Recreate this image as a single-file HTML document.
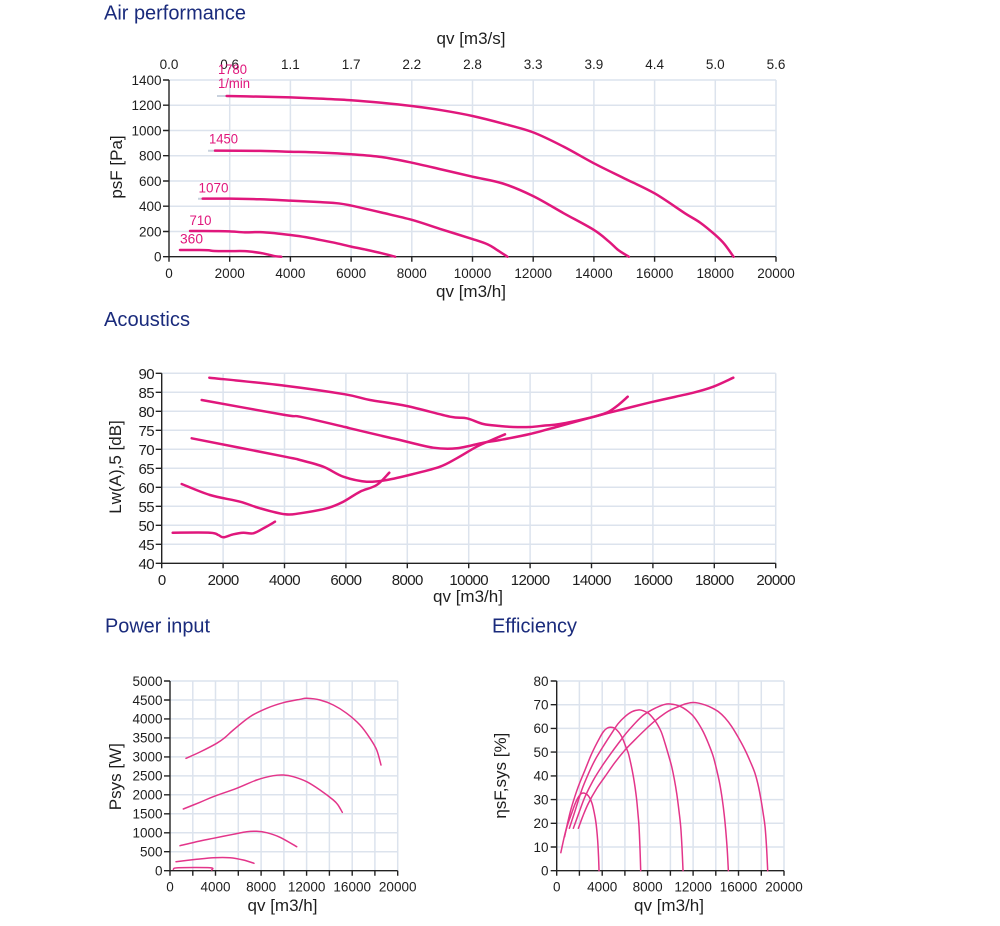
<!DOCTYPE html>
<html><head><meta charset="utf-8"><style>
html,body{margin:0;padding:0;background:#fff;}
svg{display:block;}
text{font-family:"Liberation Sans",Arial,sans-serif;}
.t{fill:#1a2b7c;font-size:20px;}
.k{fill:#1e1e1e;font-size:13.5px;}
.ka{fill:#1e1e1e;font-size:15px;letter-spacing:-0.6px;}
.at{fill:#1e1e1e;font-size:17px;}
.cl{fill:#e0177c;font-size:14px;}
.g{stroke:#dce3ed;stroke-width:1.5;fill:none;}
.ax{stroke:#222;stroke-width:1.4;fill:none;}
.c{fill:none;stroke:#e0177c;stroke-width:2.5;stroke-linejoin:round;stroke-linecap:round;}
.cs{fill:none;stroke:#e3358a;stroke-width:1.5;stroke-linejoin:round;stroke-linecap:round;}
.st{stroke:#c9d2de;stroke-width:2;fill:none;}
</style></head><body>
<svg id="chart" width="1000" height="926" viewBox="0 0 1000 926" xmlns="http://www.w3.org/2000/svg">

<!-- ============ AIR PERFORMANCE ============ -->
<text class="t" x="104" y="19.5" textLength="142" lengthAdjust="spacingAndGlyphs">Air performance</text>
<path class="g" d="M229.7 80V256.7M290.4 80V256.7M351.1 80V256.7M411.8 80V256.7M472.5 80V256.7M533.2 80V256.7M593.9 80V256.7M654.6 80V256.7M715.3 80V256.7M776 80V256.7
M169 231.5H776M169 206.2H776M169 181H776M169 155.7H776M169 130.5H776M169 105.2H776M169 80H776"/>
<path class="ax" d="M169 80V256.7H776
M163 256.7H169M163 231.5H169M163 206.2H169M163 181H169M163 155.7H169M163 130.5H169M163 105.2H169M163 80H169
M169 256.7v5M229.7 256.7v5M290.4 256.7v5M351.1 256.7v5M411.8 256.7v5M472.5 256.7v5M533.2 256.7v5M593.9 256.7v5M654.6 256.7v5M715.3 256.7v5M776 256.7v5"/>
<g class="k" text-anchor="end">
<text x="161.5" y="261.7">0</text><text x="161.5" y="236.5">200</text><text x="161.5" y="211.2">400</text><text x="161.5" y="186">600</text><text x="161.5" y="160.7">800</text><text x="161.5" y="135.5">1000</text><text x="161.5" y="110.2">1200</text><text x="161.5" y="85">1400</text>
</g>
<g class="k" text-anchor="middle">
<text x="169" y="278">0</text><text x="229.7" y="278">2000</text><text x="290.4" y="278">4000</text><text x="351.1" y="278">6000</text><text x="411.8" y="278">8000</text><text x="472.5" y="278">10000</text><text x="533.2" y="278">12000</text><text x="593.9" y="278">14000</text><text x="654.6" y="278">16000</text><text x="715.3" y="278">18000</text><text x="776" y="278">20000</text>
<text x="169" y="69">0.0</text><text x="229.7" y="69">0.6</text><text x="290.4" y="69">1.1</text><text x="351.1" y="69">1.7</text><text x="411.8" y="69">2.2</text><text x="472.5" y="69">2.8</text><text x="533.2" y="69">3.3</text><text x="593.9" y="69">3.9</text><text x="654.6" y="69">4.4</text><text x="715.3" y="69">5.0</text><text x="776" y="69">5.6</text>
</g>
<text class="at" x="471" y="44" text-anchor="middle">qv [m3/s]</text>
<text class="at" x="471" y="297" text-anchor="middle">qv [m3/h]</text>
<text class="at" transform="rotate(-90 122 167)" x="122" y="167" text-anchor="middle">psF [Pa]</text>
<path class="st" d="M217 96H226M208 150.7H215M198 198.7H203"/>
<g transform="translate(169,256.7) scale(0.03035,-0.12621)">
<polyline class="c" vector-effect="non-scaling-stroke" points="1900,1273 3000,1268 4000,1262 5000,1252 6000,1240 7000,1220 8000,1194 9000,1160 10000,1115 11000,1055 12000,985 13000,872 14000,740 15000,621 16000,502 17000,344 17500,270 18000,172 18300,100 18600,0"/>
<polyline class="c" vector-effect="non-scaling-stroke" points="1516,840 3000,838 4000,832 5000,825 6000,812 7000,790 8000,745 9000,690 10000,634 11000,580 12000,480 13000,345 14000,212 14500,119 14800,53 15150,0"/>
<polyline class="c" vector-effect="non-scaling-stroke" points="1111,460 2000,460 3000,455 4000,444 5000,432 5600,422 6000,405 7000,350 8000,292 9000,215 10000,140 10500,98 10800,55 11150,0"/>
<polyline class="c" vector-effect="non-scaling-stroke" points="692,204 1500,203 2000,201 2500,193 3000,195 3500,186 4000,172 4500,155 5000,132 5500,108 6000,80 6500,55 7000,28 7450,0"/>
<polyline class="c" vector-effect="non-scaling-stroke" points="362,53 1000,53 1300,51 1500,45 2000,44 2500,44 3000,30 3300,15 3500,4 3700,0"/>
</g>
<g class="cl">
<text x="218" y="74" textLength="29" lengthAdjust="spacingAndGlyphs">1780</text>
<text x="218" y="88" textLength="32" lengthAdjust="spacingAndGlyphs">1/min</text>
<text x="209" y="143.5" textLength="29" lengthAdjust="spacingAndGlyphs">1450</text>
<text x="198.5" y="192.5" textLength="30" lengthAdjust="spacingAndGlyphs">1070</text>
<text x="189.5" y="225" textLength="22" lengthAdjust="spacingAndGlyphs">710</text>
<text x="180" y="243.5" textLength="23" lengthAdjust="spacingAndGlyphs">360</text>
</g>

<!-- ============ ACOUSTICS ============ -->
<text class="t" x="104" y="326" textLength="86" lengthAdjust="spacingAndGlyphs">Acoustics</text>
<path class="g" d="M223.1 373.3V563.3M284.5 373.3V563.3M345.9 373.3V563.3M407.3 373.3V563.3M468.7 373.3V563.3M530.1 373.3V563.3M591.5 373.3V563.3M652.9 373.3V563.3M714.3 373.3V563.3M775.7 373.3V563.3
M161.7 544.3H775.7M161.7 525.3H775.7M161.7 506.3H775.7M161.7 487.3H775.7M161.7 468.3H775.7M161.7 449.3H775.7M161.7 430.3H775.7M161.7 411.3H775.7M161.7 392.3H775.7M161.7 373.3H775.7"/>
<path class="ax" d="M161.7 373.3V563.3H775.7
M155.7 563.3H161.7M155.7 544.3H161.7M155.7 525.3H161.7M155.7 506.3H161.7M155.7 487.3H161.7M155.7 468.3H161.7M155.7 449.3H161.7M155.7 430.3H161.7M155.7 411.3H161.7M155.7 392.3H161.7M155.7 373.3H161.7
M161.7 563.3v5M223.1 563.3v5M284.5 563.3v5M345.9 563.3v5M407.3 563.3v5M468.7 563.3v5M530.1 563.3v5M591.5 563.3v5M652.9 563.3v5M714.3 563.3v5M775.7 563.3v5"/>
<g class="ka" text-anchor="end">
<text x="154" y="568.8">40</text><text x="154" y="549.8">45</text><text x="154" y="530.8">50</text><text x="154" y="511.8">55</text><text x="154" y="492.8">60</text><text x="154" y="473.8">65</text><text x="154" y="454.8">70</text><text x="154" y="435.8">75</text><text x="154" y="416.8">80</text><text x="154" y="397.8">85</text><text x="154" y="378.8">90</text>
</g>
<g class="ka" text-anchor="middle">
<text x="161.7" y="585">0</text><text x="223.1" y="585">2000</text><text x="284.5" y="585">4000</text><text x="345.9" y="585">6000</text><text x="407.3" y="585">8000</text><text x="468.7" y="585">10000</text><text x="530.1" y="585">12000</text><text x="591.5" y="585">14000</text><text x="652.9" y="585">16000</text><text x="714.3" y="585">18000</text><text x="775.7" y="585">20000</text>
</g>
<text class="at" x="468" y="602" text-anchor="middle">qv [m3/h]</text>
<text class="at" transform="rotate(-90 121 467)" x="121" y="467" text-anchor="middle">Lw(A),5 [dB]</text>
<polyline class="c" points="209.3,377.7 285,385.7 345,394.3 370,400 406.7,406 450,416.7 466.7,418.3 483.3,424 500,426 513,427 530,427 545,425.5 560,424 591.7,417.3 606.7,413.3 653.3,401.7 693.3,392.7 713.3,386.7 733.3,377.7"/>
<polyline class="c" points="201.7,400 285,415 300,416.7 345,427 350,428.3 386.7,437 400,440 433.3,447.7 456.7,448.3 483.3,442.7 500,440 530,434 560,426 591.7,417.3 606.7,412.7 617,406 627.7,396.7"/>
<polyline class="c" points="191.7,438.3 285,456.7 300,460 323.3,466.7 343.3,476.7 366.7,481.7 386.7,480 413.3,474 440,466.7 456.7,458.3 476.7,446.7 491.7,440 505,434.3"/>
<polyline class="c" points="181.7,484 210,495 240,501.7 260,508.3 285,514.3 300,513.3 326.7,508.3 343.3,501.7 360,491.7 376.7,485 389.3,472.7"/>
<polyline class="c" points="172.7,532.7 210,532.7 218.3,535 223.3,537.3 233.3,534.3 243.3,532.7 253.3,533.3 264,528 275,521.7"/>

<!-- ============ POWER INPUT ============ -->
<text class="t" x="105" y="632.7" textLength="105" lengthAdjust="spacingAndGlyphs">Power input</text>
<path class="g" d="M192.8 681V870.7M215.5 681V870.7M238.3 681V870.7M261.1 681V870.7M283.9 681V870.7M306.6 681V870.7M329.4 681V870.7M352.2 681V870.7M374.9 681V870.7M397.7 681V870.7
M170 851.7H397.7M170 832.8H397.7M170 813.8H397.7M170 794.8H397.7M170 775.9H397.7M170 756.9H397.7M170 737.9H397.7M170 718.9H397.7M170 700H397.7M170 681H397.7"/>
<path class="ax" d="M170 681V870.7H397.7
M164 870.7H170M164 851.7H170M164 832.8H170M164 813.8H170M164 794.8H170M164 775.9H170M164 756.9H170M164 737.9H170M164 718.9H170M164 700H170M164 681H170
M170 870.7v5M192.8 870.7v5M215.5 870.7v5M238.3 870.7v5M261.1 870.7v5M283.9 870.7v5M306.6 870.7v5M329.4 870.7v5M352.2 870.7v5M374.9 870.7v5M397.7 870.7v5"/>
<g class="k" text-anchor="end">
<text x="162.5" y="875.5">0</text><text x="162.5" y="856.5">500</text><text x="162.5" y="837.6">1000</text><text x="162.5" y="818.6">1500</text><text x="162.5" y="799.6">2000</text><text x="162.5" y="780.7">2500</text><text x="162.5" y="761.7">3000</text><text x="162.5" y="742.7">3500</text><text x="162.5" y="723.7">4000</text><text x="162.5" y="704.8">4500</text><text x="162.5" y="685.8">5000</text>
</g>
<g class="k" text-anchor="middle">
<text x="170" y="891.7">0</text><text x="215.5" y="891.7">4000</text><text x="261.1" y="891.7">8000</text><text x="306.6" y="891.7">12000</text><text x="352.2" y="891.7">16000</text><text x="397.7" y="891.7">20000</text>
</g>
<text class="at" x="282.5" y="911" text-anchor="middle">qv [m3/h]</text>
<text class="at" transform="rotate(-90 121 776.7)" x="121" y="776.7" text-anchor="middle">Psys [W]</text>
<polyline class="cs" points="186,758.3 200,752 216.7,743.3 225,737.5 233.3,730 250,716.7 266.7,708.3 283.3,702.7 300,699.3 306.7,698.3 320,700 333.3,705 346.7,713.3 360,725 370,738.3 376.7,750 381,765"/>
<polyline class="cs" points="183.3,809 200,802.3 213.3,796.7 236.7,788.3 256.7,780 273.3,775.7 283.3,775 293.3,776.7 306.7,781.7 320,790 333.3,800 338,805 342.3,812.3"/>
<polyline class="cs" points="180,845.7 200,841 213.3,838.3 233.3,834.3 246.7,831.7 256.7,831.3 266.7,832.7 280,837.3 296.7,846.7"/>
<polyline class="cs" points="176,861.7 196.7,859.3 213.3,857.7 230,857.7 243.3,860 254,863.3"/>
<polyline class="cs" points="173.3,869.3 178.3,867.7 210,867.7 211.7,870"/>

<!-- ============ EFFICIENCY ============ -->
<text class="t" x="492" y="632.7" textLength="85" lengthAdjust="spacingAndGlyphs">Efficiency</text>
<path class="g" d="M579.4 681V870.7M602.2 681V870.7M624.9 681V870.7M647.6 681V870.7M670.4 681V870.7M693.1 681V870.7M715.8 681V870.7M738.5 681V870.7M761.3 681V870.7M784 681V870.7
M556.7 847H784M556.7 823.3H784M556.7 799.6H784M556.7 775.9H784M556.7 752.1H784M556.7 728.4H784M556.7 704.7H784M556.7 681H784"/>
<path class="ax" d="M556.7 681V870.7H784
M550.7 870.7H556.7M550.7 847H556.7M550.7 823.3H556.7M550.7 799.6H556.7M550.7 775.9H556.7M550.7 752.1H556.7M550.7 728.4H556.7M550.7 704.7H556.7M550.7 681H556.7
M556.7 870.7v5M579.4 870.7v5M602.2 870.7v5M624.9 870.7v5M647.6 870.7v5M670.4 870.7v5M693.1 870.7v5M715.8 870.7v5M738.5 870.7v5M761.3 870.7v5M784 870.7v5"/>
<g class="k" text-anchor="end">
<text x="548.5" y="875.5">0</text><text x="548.5" y="851.8">10</text><text x="548.5" y="828.1">20</text><text x="548.5" y="804.4">30</text><text x="548.5" y="780.7">40</text><text x="548.5" y="756.9">50</text><text x="548.5" y="733.2">60</text><text x="548.5" y="709.5">70</text><text x="548.5" y="685.8">80</text>
</g>
<g class="k" text-anchor="middle">
<text x="556.7" y="891.7">0</text><text x="602.2" y="891.7">4000</text><text x="647.6" y="891.7">8000</text><text x="693.1" y="891.7">12000</text><text x="738.5" y="891.7">16000</text><text x="784" y="891.7">20000</text>
</g>
<text class="at" x="669" y="911" text-anchor="middle">qv [m3/h]</text>
<text class="at" transform="rotate(-90 506 775.7)" x="506" y="775.7" text-anchor="middle">ηsF,sys [%]</text>
<g transform="translate(556.7,870.7) scale(0.011367,-2.371)">
<polyline class="cs" vector-effect="non-scaling-stroke" points="362,7.6 700,15 1000,20 1300,24 1600,28 1900,31 2200,32.6 2500,32.6 2800,31.5 3100,28.5 3300,24.5 3460,20 3600,13 3680,6 3724,0"/>
<polyline class="cs" vector-effect="non-scaling-stroke" points="692,14.3 1000,21 1320,27 1900,35.5 2493,42.5 3000,48.5 3372,52.3 3800,56.2 4106,58.6 4400,60 4692,60.5 5000,60.3 5279,59.4 5600,57.5 5865,55 6100,52 6305,49.5 6550,44.5 6745,39.7 6900,35 7038,29.8 7150,24 7243,18.6 7330,9 7390,0"/>
<polyline class="cs" vector-effect="non-scaling-stroke" points="1114,17.9 1600,25 2200,34 2800,41 3372,46.7 4100,52.5 4839,58 5400,62 6012,65 6600,67 7185,67.8 7600,67.5 8065,66.4 8450,64.5 8798,62.2 9200,58.5 9531,53.7 9850,48.5 10117,43.9 10350,38.5 10557,32.6 10750,25.5 10909,18.6 11020,10 11114,0"/>
<polyline class="cs" vector-effect="non-scaling-stroke" points="1466,17.9 2000,25 2493,31.2 3200,38 3959,43.9 4700,49 5425,53.7 6150,58.2 6891,62.2 7600,65.5 8358,67.8 9000,69.3 9677,70.3 10200,70.2 10704,69.6 11150,68.6 11584,67.1 12050,65 12463,62.2 12900,58.5 13343,53.7 13750,48.5 14076,42.5 14350,36.5 14575,29.8 14740,23.5 14868,17.2 15000,9 15103,0"/>
<polyline class="cs" vector-effect="non-scaling-stroke" points="1906,17.9 2300,23 2786,28.4 3500,34.5 4252,39.7 5100,45.5 6012,50.9 6900,55.3 7771,59.4 8650,63.2 9531,66.4 10100,68 10704,69.2 11300,70.3 11877,70.9 12450,70.7 13050,69.9 13650,68.7 14223,67.1 14800,64.5 15396,60.8 16000,56 16569,50.9 17050,45.8 17449,41 17750,35.5 17977,29.8 18170,24 18328,18.6 18460,10 18563,0"/>
</g>
</svg>
<script>
(function(){
  var ns="http://www.w3.org/2000/svg";
  var pls=document.querySelectorAll("#chart polyline");
  for(var k=0;k<pls.length;k++){
    var pl=pls[k];
    var pts=pl.getAttribute("points").trim().split(/\s+/).map(function(s){return s.split(",").map(Number);});
    if(pts.length<3) continue;
    var d="M"+pts[0][0]+","+pts[0][1];
    for(var i=0;i<pts.length-1;i++){
      var p0=pts[i>0?i-1:i], p1=pts[i], p2=pts[i+1], p3=pts[i+2<pts.length?i+2:i+1];
      var c1x=p1[0]+(p2[0]-p0[0])/6, c1y=p1[1]+(p2[1]-p0[1])/6;
      var c2x=p2[0]-(p3[0]-p1[0])/6, c2y=p2[1]-(p3[1]-p1[1])/6;
      d+=" C"+c1x.toFixed(2)+","+c1y.toFixed(2)+" "+c2x.toFixed(2)+","+c2y.toFixed(2)+" "+p2[0]+","+p2[1];
    }
    var p=document.createElementNS(ns,"path");
    p.setAttribute("class",pl.getAttribute("class"));
    var ve=pl.getAttribute("vector-effect");
    if(ve) p.setAttribute("vector-effect",ve);
    p.setAttribute("d",d);
    pl.parentNode.replaceChild(p,pl);
  }
})();
</script>
</body></html>
